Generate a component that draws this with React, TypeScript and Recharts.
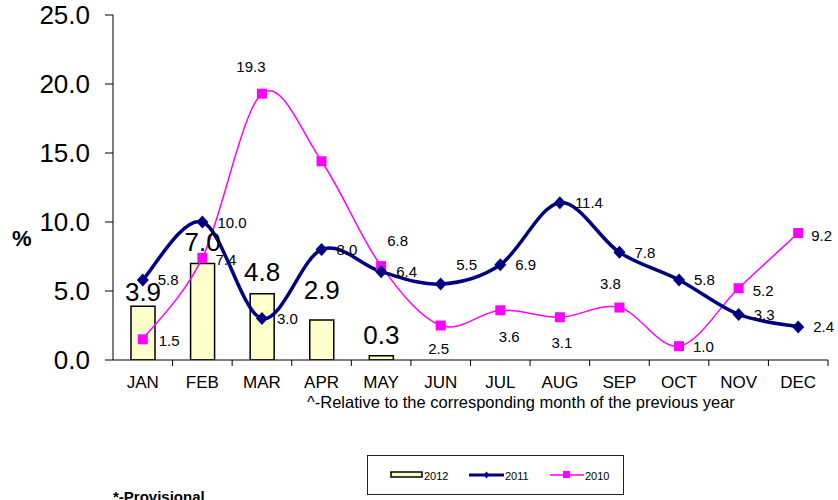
import React from "react";
import {
  ComposedChart,
  Bar,
  Line,
  XAxis,
  YAxis,
  LabelList,
} from "recharts";

// values
const months = ["JAN", "FEB", "MAR", "APR", "MAY", "JUN", "JUL", "AUG", "SEP", "OCT", "NOV", "DEC"];
const y2012 = [3.9, 7.0, 4.8, 2.9, 0.3, null, null, null, null, null, null, null];
const y2011 = [5.8, 10.0, 3.0, 8.0, 6.4, 5.5, 6.9, 11.4, 7.8, 5.8, 3.3, 2.4];
const y2010 = [1.5, 7.4, 19.3, 14.4, 6.8, 2.5, 3.6, 3.1, 3.8, 1.0, 5.2, 9.2];
const yTicks = [0, 5, 10, 15, 20, 25];

const data = months.map((m, i) => ({
  month: m,
  y2012: y2012[i],
  y2011: y2011[i],
  y2010: y2010[i],
}));

// label placement (style only)
const barLabelLift = [14, 21, 22, 30, 21];
type Place = [string, number, number] | null;
const place2011: Place[] = months.map((_, i) =>
  i === 5 ? ["middle", 26, -20] : ["start", 15, 0]
);
const place2010: Place[] = [
  ["start", 16, 1],
  ["start", 13, 2],
  ["middle", -11, -27],
  null,
  ["start", 6, -26],
  ["middle", -2, 23],
  ["middle", 9, 26],
  ["middle", 2, 25],
  ["middle", -9, -24],
  ["start", 14, 0],
  ["start", 14, 2],
  ["start", 13, 2],
];

const W = 838;
const H = 500;
const M = { top: 15, right: 10, bottom: 110, left: 0 };
const X_AXIS_H = 30;
const PLOT_LEFT = 113;
const PLOT_BOTTOM = H - M.bottom - X_AXIS_H;
const BAND = (W - M.right - PLOT_LEFT) / months.length;
const FONT = "Arial, 'Liberation Sans', sans-serif";

// Excel-like smoothed line (Catmull-Rom through the points)
// eslint-disable-next-line @typescript-eslint/no-explicit-any
const excelCurve = (context: any) => {
  let pts: [number, number][] = [];
  return {
    areaStart() {},
    areaEnd() {},
    lineStart() {
      pts = [];
    },
    point(x: number, y: number) {
      pts.push([+x, +y]);
    },
    lineEnd() {
      if (!pts.length) return;
      context.moveTo(pts[0][0], pts[0][1]);
      for (let i = 0; i < pts.length - 1; i++) {
        const p0 = pts[i - 1] || pts[i];
        const p1 = pts[i];
        const p2 = pts[i + 1];
        const p3 = pts[i + 2] || pts[i + 1];
        context.bezierCurveTo(
          p1[0] + (p2[0] - p0[0]) / 6,
          p1[1] + (p2[1] - p0[1]) / 6,
          p2[0] - (p3[0] - p1[0]) / 6,
          p2[1] - (p3[1] - p1[1]) / 6,
          p2[0],
          p2[1]
        );
      }
    },
  };
};

// eslint-disable-next-line @typescript-eslint/no-explicit-any
const Diamond = (props: any) => {
  const { cx, cy } = props;
  if (cx == null || cy == null) return null;
  const r = 6.5;
  return (
    <polygon
      points={`${cx},${cy - r} ${cx + r - 0.5},${cy} ${cx},${cy + r} ${cx - r + 0.5},${cy}`}
      fill="#000080"
    />
  );
};

// eslint-disable-next-line @typescript-eslint/no-explicit-any
const Square = (props: any) => {
  const { cx, cy } = props;
  if (cx == null || cy == null) return null;
  return <rect x={cx - 5} y={cy - 5} width={10} height={10} fill="#FF00FF" />;
};

// eslint-disable-next-line @typescript-eslint/no-explicit-any
const MonthTick = (props: any) => {
  const { x, payload } = props;
  return (
    <g>
      <line
        x1={x + BAND / 2}
        x2={x + BAND / 2}
        y1={PLOT_BOTTOM}
        y2={PLOT_BOTTOM + 6}
        stroke="#000"
        strokeWidth={1}
      />
      <text
        x={x}
        y={PLOT_BOTTOM + 22}
        textAnchor="middle"
        dominantBaseline="central"
        fontSize={17}
        fontFamily={FONT}
        fill="#000"
      >
        {payload.value}
      </text>
    </g>
  );
};

// eslint-disable-next-line @typescript-eslint/no-explicit-any
const barLabel = (props: any) => {
  const { x, y, width, value, index } = props;
  if (value == null) return null;
  return (
    <text
      x={x + width / 2}
      y={y - (barLabelLift[index] ?? 20)}
      textAnchor="middle"
      dominantBaseline="central"
      fontSize={26}
      fontFamily={FONT}
      fill="#000"
    >
      {Number(value).toFixed(1)}
    </text>
  );
};

const pointLabel = (places: Place[]) => {
  // eslint-disable-next-line @typescript-eslint/no-explicit-any
  return (props: any) => {
    const { x, y, value, index } = props;
    const p = places[index];
    if (value == null || !p) return null;
    return (
      <text
        x={x + p[1]}
        y={y + p[2]}
        textAnchor={p[0]}
        dominantBaseline="central"
        fontSize={15}
        fontFamily={FONT}
        fill="#000"
      >
        {Number(value).toFixed(1)}
      </text>
    );
  };
};

function LegendBox() {
  const txt: React.CSSProperties = {
    position: "absolute",
    top: 14,
    fontSize: 11,
    fontFamily: FONT,
    lineHeight: "12px",
    color: "#000",
  };
  return (
    <div
      style={{
        position: "absolute",
        left: 367,
        top: 455,
        width: 255,
        height: 38,
        border: "1.5px solid #222",
        background: "#fff",
      }}
    >
      <svg width={255} height={38} style={{ position: "absolute", left: 0, top: 0 }}>
        <rect x={23} y={16} width={31} height={5} fill="#FFFFCC" stroke="#000" strokeWidth={1.5} />
        <line x1={101} x2={136} y1={19} y2={19} stroke="#000080" strokeWidth={3} />
        <polygon points="118.5,15.5 121.5,19 118.5,22.5 115.5,19" fill="#000080" />
        <line x1={182} x2={216} y1={19} y2={19} stroke="#FF00FF" strokeWidth={1.5} />
        <rect x={195} y={15} width={7} height={7} fill="#FF00FF" />
      </svg>
      <span style={{ ...txt, left: 56 }}>2012</span>
      <span style={{ ...txt, left: 137 }}>2011</span>
      <span style={{ ...txt, left: 217 }}>2010</span>
    </div>
  );
}

export default function App() {
  return (
    <div
      style={{
        position: "absolute",
        left: 0,
        top: 0,
        width: W,
        height: H,
        background: "#fff",
        overflow: "hidden",
        fontFamily: FONT,
      }}
    >
      <ComposedChart width={W} height={H} data={data} margin={M}>
        <XAxis
          dataKey="month"
          height={X_AXIS_H}
          axisLine={{ stroke: "#000", strokeWidth: 1 }}
          tickLine={false}
          tick={<MonthTick />}
          interval={0}
        />
        <YAxis
          width={PLOT_LEFT}
          domain={[0, 25]}
          ticks={yTicks}
          allowDataOverflow
          tickFormatter={(v: number) => v.toFixed(1)}
          axisLine={{ stroke: "#000", strokeWidth: 1 }}
          tickLine={{ stroke: "#000", strokeWidth: 1 }}
          tickSize={8}
          tickMargin={15}
          tick={{ fontSize: 26, fill: "#000", fontFamily: FONT }}
        />
        <Bar
          dataKey="y2012"
          barSize={24}
          fill="#FFFFCC"
          stroke="#000"
          strokeWidth={1.5}
          isAnimationActive={false}
        >
          <LabelList dataKey="y2012" content={barLabel} />
        </Bar>
        <Line
          dataKey="y2010"
          type={excelCurve}
          stroke="#FF00FF"
          strokeWidth={1.5}
          dot={<Square />}
          activeDot={false}
          isAnimationActive={false}
        >
          <LabelList dataKey="y2010" content={pointLabel(place2010)} />
        </Line>
        <Line
          dataKey="y2011"
          type={excelCurve}
          stroke="#000080"
          strokeWidth={3.5}
          dot={<Diamond />}
          activeDot={false}
          isAnimationActive={false}
        >
          <LabelList dataKey="y2011" content={pointLabel(place2011)} />
        </Line>
      </ComposedChart>
      <div
        style={{
          position: "absolute",
          left: 12,
          top: 226,
          fontSize: 22,
          fontWeight: "bold",
          fontFamily: FONT,
        }}
      >
        %
      </div>
      <div
        style={{
          position: "absolute",
          left: 307,
          top: 392,
          fontSize: 16.5,
          lineHeight: "20px",
          fontFamily: FONT,
          whiteSpace: "nowrap",
        }}
      >
        ^-Relative to the corresponding month of the previous year
      </div>
      <LegendBox />
      <div
        style={{
          position: "absolute",
          left: 113,
          top: 488,
          fontSize: 15,
          lineHeight: "18px",
          fontWeight: "bold",
          fontFamily: FONT,
          whiteSpace: "nowrap",
        }}
      >
        *-Provisional
      </div>
    </div>
  );
}
